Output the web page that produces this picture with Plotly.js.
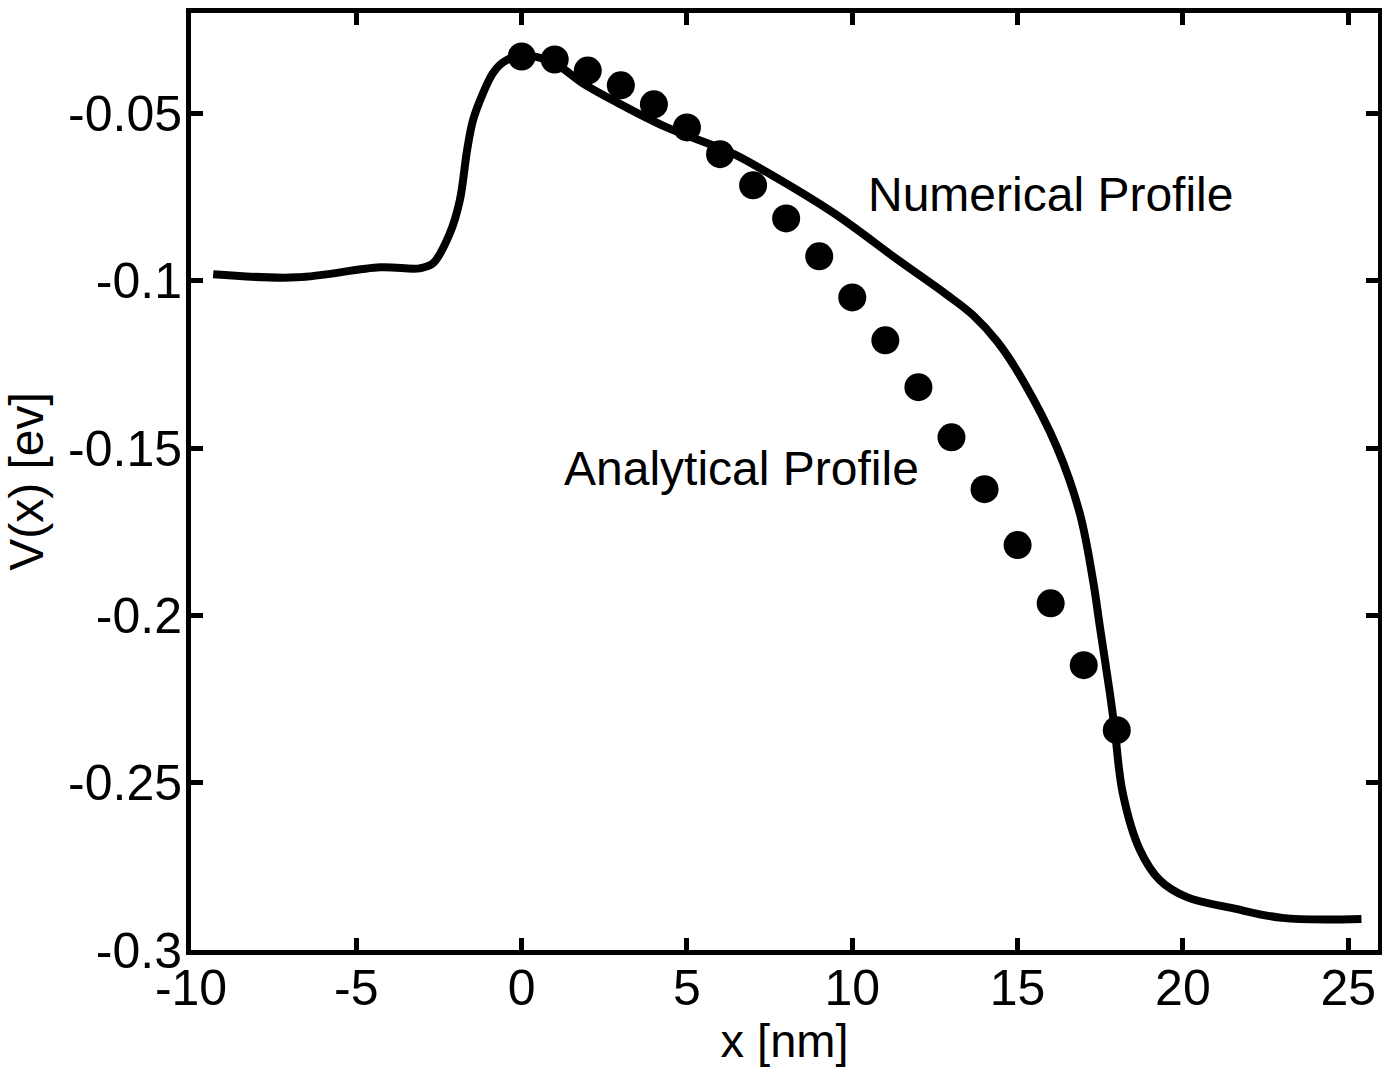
<!DOCTYPE html>
<html>
<head>
<meta charset="utf-8">
<script src="https://cdn.plot.ly/plotly-3.0.1.min.js"></script>
<style>html,body{margin:0;padding:0;background:#fff;}#chart{width:1382px;height:1067px;}</style>
</head>
<body>
<div id="chart"></div>
<script>
// Numerical profile (solid line)
const xNum = [-9.33, -6.8, -4.28, -3.08, -2.68, -2.17, -1.87, -1.65, -1.47, -1.17, -0.87, -0.57, -0.05, 0.95, 1.85, 2.88, 4.39, 6.39, 7.42, 9.41, 11.44, 12.86, 13.65, 14.4, 15.16, 16.19, 16.88, 17.28, 17.49, 17.79, 17.94, 18.18, 18.7, 19.3, 20.12, 21.5, 23.0, 25.4];
const yNum = [-0.0981, -0.099, -0.096, -0.0963, -0.0948, -0.0858, -0.076, -0.061, -0.052, -0.044, -0.038, -0.0348, -0.0327, -0.0348, -0.041, -0.0467, -0.0542, -0.062, -0.0676, -0.0796, -0.0942, -0.1042, -0.1103, -0.1184, -0.1298, -0.1498, -0.1695, -0.1895, -0.2035, -0.2232, -0.2343, -0.2531, -0.2701, -0.2791, -0.2842, -0.2875, -0.2904, -0.2907];

// Analytical profile (dots)
const xAna = [0, 1, 2, 3, 4, 5, 6, 7, 8, 9, 10, 11, 12, 13, 14, 15, 16, 17, 18];
const yAna = [-0.0330, -0.0339, -0.0372, -0.0416, -0.0473, -0.0542, -0.0622, -0.0715, -0.0814, -0.0927, -0.1050, -0.1178, -0.1318, -0.1468, -0.1623, -0.1790, -0.1964, -0.2149, -0.2343];

// Tick labels
const xTickVals = [-10, -5, 0, 5, 10, 15, 20, 25];
const xTickText = ["-10", "-5", "0", "5", "10", "15", "20", "25"];
const yTickVals = [-0.3, -0.25, -0.2, -0.15, -0.1, -0.05];
const yTickText = ["-0.3", "-0.25", "-0.2", "-0.15", "-0.1", "-0.05"];

const FONT = "Liberation Sans, Arial, Helvetica, sans-serif";

const traces = [
  {
    x: xNum, y: yNum, type: "scatter", mode: "lines",
    line: {color: "#000", width: 8, shape: "spline", smoothing: 1},
    hoverinfo: "skip"
  },
  {
    x: xAna, y: yAna, type: "scatter", mode: "markers",
    marker: {color: "#000", size: 28, symbol: "circle", line: {width: 0}},
    hoverinfo: "skip"
  }
];

const axisCommon = {
  showgrid: false, zeroline: false,
  showline: true, linecolor: "#000", linewidth: 5,
  mirror: "ticks", ticks: "inside", ticklen: 12, tickwidth: 5, tickcolor: "#000",
  tickfont: {family: FONT, size: 50, color: "#000"}
};

const layout = {
  width: 1382, height: 1067,
  margin: {l: 191, r: 4, t: 13, b: 117, pad: 0},
  paper_bgcolor: "#fff", plot_bgcolor: "#fff",
  showlegend: false,
  xaxis: Object.assign({}, axisCommon, {
    range: [-10, 25.9], tickmode: "array", tickvals: xTickVals, ticktext: xTickText,
    ticklabelstandoff: -10,
    title: {text: "x [nm]", font: {family: FONT, size: 47, color: "#000"}, standoff: 4}
  }),
  yaxis: Object.assign({}, axisCommon, {
    range: [-0.3, -0.02], tickmode: "array", tickvals: yTickVals, ticktext: yTickText,
    ticklabelstandoff: -6,
    title: {text: "V(x) [ev]", font: {family: FONT, size: 48, color: "#000"}, standoff: 12}
  }),
  annotations: [
    {x: 10.41, y: -0.0742, xref: "x", yref: "y", text: "Numerical Profile", showarrow: false,
     xanchor: "left", yanchor: "middle", font: {family: FONT, size: 48, color: "#000"}},
    {x: 1.22, y: -0.156, xref: "x", yref: "y", text: "Analytical Profile", showarrow: false,
     xanchor: "left", yanchor: "middle", font: {family: FONT, size: 48, color: "#000"}}
  ]
};

Plotly.newPlot("chart", traces, layout, {displayModeBar: false, staticPlot: true});
</script>
</body>
</html>
